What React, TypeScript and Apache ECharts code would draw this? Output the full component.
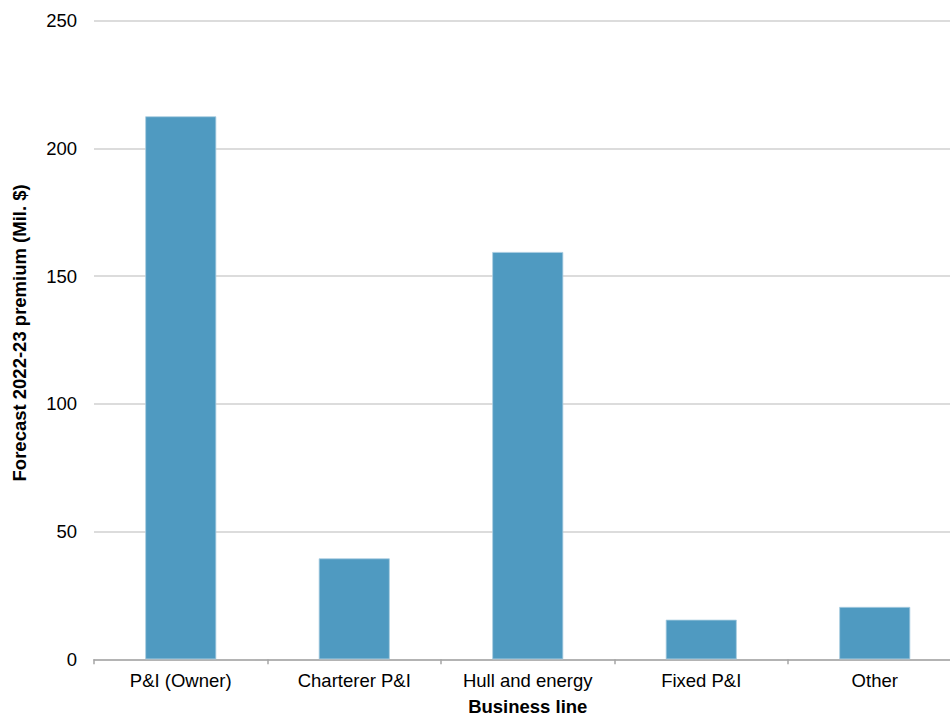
import React, { useEffect, useRef } from "react";
import * as echarts from "echarts";

const categories: string[] = ["P&I (Owner)", "Charterer P&I", "Hull and energy", "Fixed P&I", "Other"];
const premiums: number[] = [212.5, 39.5, 159.4, 15.5, 20.5];
const yTitle = "Forecast 2022-23 premium (Mil. $)";
const xTitle = "Business line";

const FONT = "'Liberation Sans', Arial, Helvetica, sans-serif";

export default function App() {
  const ref = useRef<HTMLDivElement>(null);
  useEffect(() => {
    if (!ref.current) return;
    const chart = echarts.init(ref.current, undefined, { renderer: "svg" });
    chart.setOption({
      animation: false,
      backgroundColor: "#ffffff",
      textStyle: { fontFamily: FONT },
      grid: {
        left: 94,
        right: -11.5,
        top: 20.5,
        bottom: 57.7,
        containLabel: false,
        outerBoundsMode: "none",
      },
      xAxis: {
        type: "category",
        data: categories,
        name: xTitle,
        nameLocation: "middle",
        nameGap: 41.5,
        nameTextStyle: {
          fontFamily: FONT,
          fontSize: 18.5,
          fontWeight: "bold",
          color: "#000",
          lineHeight: 12,
        },
        axisLine: { show: true, lineStyle: { color: "#a6a6a6", width: 1.5 } },
        axisTick: { show: true, length: 5, lineStyle: { color: "#a6a6a6", width: 1.5 } },
        axisLabel: { fontFamily: FONT, fontSize: 18.5, color: "#000", margin: 12 },
      },
      yAxis: {
        type: "value",
        min: 0,
        max: 250,
        interval: 50,
        name: yTitle,
        nameLocation: "middle",
        nameGap: 65,
        nameTextStyle: {
          fontFamily: FONT,
          fontSize: 18.5,
          fontWeight: "bold",
          color: "#000",
          padding: [0, 0, 0, 14],
        },
        axisLine: { show: false },
        axisTick: { show: false },
        axisLabel: { fontFamily: FONT, fontSize: 18.5, color: "#000", margin: 17 },
        splitLine: { show: true, lineStyle: { color: "#d0d0d0", width: 1.5 } },
      },
      series: [
        {
          type: "bar",
          data: premiums,
          barWidth: 71,
          itemStyle: { color: "#4f9ac1", borderColor: "#a9cde1", borderWidth: 0.8 },
        },
      ],
    });
    return () => chart.dispose();
  }, []);
  return (
    <div
      ref={ref}
      style={{ position: "fixed", left: 0, top: 0, width: 950, height: 717 }}
    />
  );
}
